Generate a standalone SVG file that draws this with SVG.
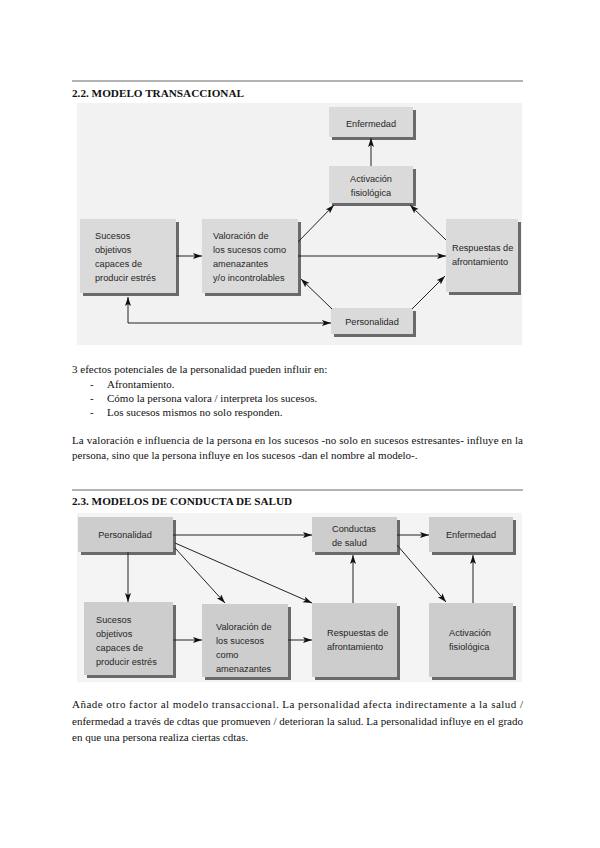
<svg xmlns="http://www.w3.org/2000/svg" width="600" height="848" viewBox="0 0 600 848">
<style>
.body{font-family:"Liberation Serif","Times New Roman",serif;font-size:11px;fill:#111}
.head{font-family:"Liberation Serif","Times New Roman",serif;font-size:11.2px;font-weight:bold;fill:#111}
.lbl{font-family:"Liberation Sans",Arial,sans-serif;font-size:9.2px;fill:#262626}
.mid{text-anchor:middle}
.box1{fill:#dadada}
.box2{fill:#cdcdcd}
.sh{fill:#6a6a6a}
.rule{stroke:#9a9a9a;stroke-width:1.5}
.con path{fill:none;stroke:#222;stroke-width:1}
</style>
<defs>
<marker id="ah" markerUnits="userSpaceOnUse" markerWidth="10" markerHeight="7" refX="9" refY="3" orient="auto-start-reverse">
<path d="M0,0 L9,3 L0,6 L2,3 z" fill="#111"/>
</marker>
</defs>
<rect width="600" height="848" fill="#ffffff"/>

<line class="rule" x1="72" y1="81" x2="523" y2="81"/>
<text class="head" x="72" y="97">2.2. MODELO TRANSACCIONAL</text>

<rect x="77" y="103" width="445" height="242" fill="#f2f2f2"/>

<g id="d1-sucesos">
<rect class="sh" x="83" y="222" width="96" height="74"/>
<rect class="box1" x="80" y="219" width="96" height="74"/>
<text class="lbl" x="95" y="239">Sucesos</text>
<text class="lbl" x="95" y="253">objetivos</text>
<text class="lbl" x="95" y="267">capaces de</text>
<text class="lbl" x="95" y="281">producir estrés</text>
</g>
<g id="d1-valoracion">
<rect class="sh" x="205" y="222" width="96" height="74"/>
<rect class="box1" x="202" y="219" width="96" height="74"/>
<text class="lbl" x="213" y="239">Valoración de</text>
<text class="lbl" x="213" y="253">los sucesos como</text>
<text class="lbl" x="213" y="267">amenazantes</text>
<text class="lbl" x="213" y="281">y/o incontrolables</text>
</g>
<g id="d1-enfermedad">
<rect class="sh" x="332" y="110" width="84" height="30"/>
<rect class="box1" x="329" y="107" width="84" height="30"/>
<text class="lbl mid" x="371" y="127">Enfermedad</text>
</g>
<g id="d1-activacion">
<rect class="sh" x="332" y="169" width="84" height="37"/>
<rect class="box1" x="329" y="166" width="84" height="37"/>
<text class="lbl mid" x="371" y="182">Activación</text>
<text class="lbl mid" x="371" y="196">fisiológica</text>
</g>
<g id="d1-respuestas">
<rect class="sh" x="449" y="222" width="72" height="73"/>
<rect class="box1" x="446" y="219" width="72" height="73"/>
<text class="lbl" x="452" y="251">Respuestas de</text>
<text class="lbl" x="452" y="265">afrontamiento</text>
</g>
<g id="d1-personalidad">
<rect class="sh" x="334" y="311" width="82" height="26"/>
<rect class="box1" x="331" y="308" width="82" height="26"/>
<text class="lbl mid" x="372" y="325">Personalidad</text>
</g>

<g id="d1-connectors" class="con">
<path d="M176,256 L202,256" marker-end="url(#ah)"/>
<path d="M298,256 L446,256" marker-end="url(#ah)"/>
<path d="M298,242 L334,205" marker-end="url(#ah)"/>
<path d="M446,240 L410,205" marker-end="url(#ah)"/>
<path d="M332,309 L301,279" marker-end="url(#ah)"/>
<path d="M412,309 L445,276" marker-end="url(#ah)"/>
<path d="M371,166 L371,138" marker-end="url(#ah)"/>
<path d="M128,297 L128,323 L331,323" marker-start="url(#ah)" marker-end="url(#ah)"/>
</g>

<text class="body" x="72" y="373">3 efectos potenciales de la personalidad pueden influir en:</text>
<text class="body" x="90" y="388">-</text>
<text class="body" x="107" y="388">Afrontamiento.</text>
<text class="body" x="90" y="402">-</text>
<text class="body" x="107" y="402">Cómo la persona valora / interpreta los sucesos.</text>
<text class="body" x="90" y="416">-</text>
<text class="body" x="107" y="416">Los sucesos mismos no solo responden.</text>
<text class="body" x="72" y="444" textLength="451" lengthAdjust="spacing">La valoración e influencia de la persona en los sucesos -no solo en sucesos estresantes- influye en la</text>
<text class="body" x="72" y="459">persona, sino que la persona influye en los sucesos -dan el nombre al modelo-.</text>

<line class="rule" x1="72" y1="490" x2="523" y2="490"/>
<text class="head" x="72" y="505">2.3. MODELOS DE CONDUCTA DE SALUD</text>

<rect x="77" y="513" width="445" height="169" fill="#f4f4f4"/>

<g id="d2-personalidad">
<rect class="sh" x="81" y="520" width="95" height="35"/>
<rect class="box2" x="78" y="517" width="95" height="35"/>
<text class="lbl mid" x="125" y="538">Personalidad</text>
</g>
<g id="d2-conductas">
<rect class="sh" x="315" y="520" width="85" height="35"/>
<rect class="box2" x="312" y="517" width="85" height="35"/>
<text class="lbl" x="332" y="532">Conductas</text>
<text class="lbl" x="332" y="546">de salud</text>
</g>
<g id="d2-enfermedad">
<rect class="sh" x="432" y="520" width="84" height="35"/>
<rect class="box2" x="429" y="517" width="84" height="35"/>
<text class="lbl mid" x="471" y="538">Enfermedad</text>
</g>
<g id="d2-sucesos">
<rect class="sh" x="87" y="605" width="89" height="73"/>
<rect class="box2" x="84" y="602" width="89" height="73"/>
<text class="lbl" x="96" y="623">Sucesos</text>
<text class="lbl" x="96" y="637">objetivos</text>
<text class="lbl" x="96" y="651">capaces de</text>
<text class="lbl" x="96" y="665">producir estrés</text>
</g>
<g id="d2-valoracion">
<rect class="sh" x="205" y="607" width="86" height="73"/>
<rect class="box2" x="202" y="604" width="86" height="73"/>
<text class="lbl" x="216" y="630">Valoración de</text>
<text class="lbl" x="216" y="644">los sucesos</text>
<text class="lbl" x="216" y="658">como</text>
<text class="lbl" x="216" y="672">amenazantes</text>
</g>
<g id="d2-respuestas">
<rect class="sh" x="315" y="606" width="85" height="74"/>
<rect class="box2" x="312" y="603" width="85" height="74"/>
<text class="lbl" x="327" y="636">Respuestas de</text>
<text class="lbl" x="327" y="650">afrontamiento</text>
</g>
<g id="d2-activacion">
<rect class="sh" x="432" y="606" width="84" height="74"/>
<rect class="box2" x="429" y="603" width="84" height="74"/>
<text class="lbl" x="449" y="636">Activación</text>
<text class="lbl" x="449" y="650">fisiológica</text>
</g>

<g id="d2-connectors" class="con">
<path d="M173,535 L312,535" marker-end="url(#ah)"/>
<path d="M397,535 L429,535" marker-end="url(#ah)"/>
<path d="M128,552 L128,602" marker-end="url(#ah)"/>
<path d="M175,548 L225,603" marker-end="url(#ah)"/>
<path d="M175,543 L312,603" marker-end="url(#ah)"/>
<path d="M173,640 L202,640" marker-end="url(#ah)"/>
<path d="M288,640 L312,640" marker-end="url(#ah)"/>
<path d="M353,603 L353,555" marker-end="url(#ah)"/>
<path d="M397,545 L446,602" marker-end="url(#ah)"/>
<path d="M473,603 L473,555" marker-end="url(#ah)"/>
</g>

<text class="body" x="72" y="708" textLength="451" lengthAdjust="spacing">Añade otro factor al modelo transaccional. La personalidad afecta indirectamente a la salud /</text>
<text class="body" x="72" y="725" textLength="451" lengthAdjust="spacing">enfermedad a través de cdtas que promueven / deterioran la salud. La personalidad influye en el grado</text>
<text class="body" x="72" y="741">en que una persona realiza ciertas cdtas.</text>
</svg>
